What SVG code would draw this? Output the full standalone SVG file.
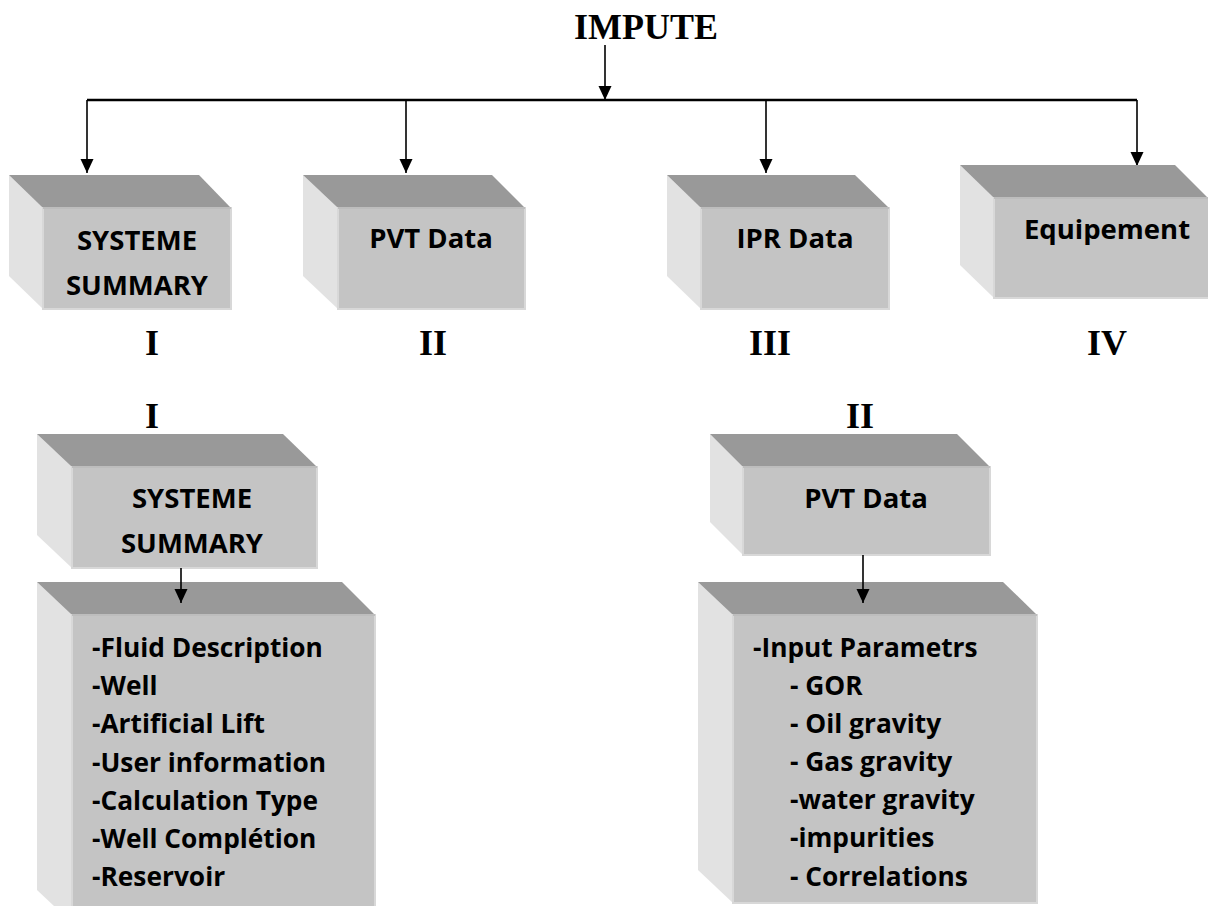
<svg xmlns="http://www.w3.org/2000/svg" width="1208" height="906" viewBox="0 0 1208 906">
<style>
.top{fill:#999999}
.side{fill:#e2e2e2}
.front{fill:#c4c4c4;stroke:#d8d8d8;stroke-width:2}
.edge{stroke:#b4b4b4;stroke-width:1.5;fill:none}
.bt{font-family:"Open Sans","Liberation Sans",sans-serif;font-weight:700;font-size:27.5px;fill:#000;text-anchor:middle}
.lt{font-family:"Open Sans","Liberation Sans",sans-serif;font-weight:700;font-size:26.3px;fill:#000}
.rn{font-family:"Liberation Serif","Times New Roman",serif;font-weight:700;font-size:36px;fill:#000;text-anchor:middle}
.ln{stroke:#000;stroke-width:1.6;fill:none}
</style>
<defs>
<marker id="ah" markerUnits="userSpaceOnUse" markerWidth="15" markerHeight="15" refX="14" refY="6.5" orient="auto">
<path d="M0,0 L14,6.5 L0,13 Z" fill="#000"/>
</marker>
</defs>
<rect width="1208" height="906" fill="#fff"/>

<text id="title" class="rn" x="646" y="39">IMPUTE</text>

<g id="connectors">
<line class="ln" x1="605" y1="45" x2="605" y2="100" marker-end="url(#ah)"/>
<line x1="87" y1="100" x2="1137" y2="100" stroke="#000" stroke-width="2.4"/>
<line class="ln" x1="87" y1="100" x2="87" y2="173" marker-end="url(#ah)"/>
<line class="ln" x1="406" y1="100" x2="406" y2="173" marker-end="url(#ah)"/>
<line class="ln" x1="766" y1="100" x2="766" y2="173" marker-end="url(#ah)"/>
<line class="ln" x1="1137" y1="100" x2="1137" y2="166" marker-end="url(#ah)"/>
</g>

<g id="box1">
<polygon class="side" points="9,175 43,208 43,309 9,276"/>
<polygon class="top" points="9,175 199,175 231,208 43,208"/>
<rect class="front" x="43" y="208" width="188" height="101"/>
<line class="edge" x1="43" y1="208" x2="231" y2="208"/>
<text class="bt" x="137" y="250">SYSTEME</text>
<text class="bt" x="137" y="295">SUMMARY</text>
</g>
<text id="lbl1" class="rn" x="152" y="355">I</text>

<g id="box2">
<polygon class="side" points="303,175 338,208 338,309 303,276"/>
<polygon class="top" points="303,175 492,175 525,208 338,208"/>
<rect class="front" x="338" y="208" width="187" height="101"/>
<line class="edge" x1="338" y1="208" x2="525" y2="208"/>
<text class="bt" x="431" y="248">PVT Data</text>
</g>
<text id="lbl2" class="rn" x="433" y="355">II</text>

<g id="box3">
<polygon class="side" points="667,175 701,208 701,309 667,276"/>
<polygon class="top" points="667,175 855,175 889,208 701,208"/>
<rect class="front" x="701" y="208" width="188" height="101"/>
<line class="edge" x1="701" y1="208" x2="889" y2="208"/>
<text class="bt" x="795" y="248">IPR Data</text>
</g>
<text id="lbl3" class="rn" x="770" y="355">III</text>

<g id="box4">
<polygon class="side" points="960,165 994,198 994,298 960,265"/>
<polygon class="top" points="960,165 1175,165 1208,198 994,198"/>
<rect class="front" x="994" y="198" width="216" height="100"/>
<line class="edge" x1="994" y1="198" x2="1208" y2="198"/>
<text class="bt" x="1107" y="239">Equipement</text>
</g>
<text id="lbl4" class="rn" x="1107" y="355">IV</text>

<text id="lbl5" class="rn" x="152" y="428">I</text>
<text id="lbl6" class="rn" x="860" y="428">II</text>

<g id="box5">
<polygon class="side" points="37,434 72,467 72,568 37,535"/>
<polygon class="top" points="37,434 283,434 317,467 72,467"/>
<rect class="front" x="72" y="467" width="245" height="101"/>
<line class="edge" x1="72" y1="467" x2="317" y2="467"/>
<text class="bt" x="192" y="508">SYSTEME</text>
<text class="bt" x="192" y="553">SUMMARY</text>
</g>

<g id="box6">
<polygon class="side" points="37,582 72,615 72,923 37,890"/>
<polygon class="top" points="37,582 342,582 375,615 72,615"/>
<rect class="front" x="72" y="615" width="303" height="308"/>
<line class="edge" x1="72" y1="615" x2="375" y2="615"/>
<text class="lt" x="92" y="657">-Fluid Description</text>
<text class="lt" x="92" y="695">-Well</text>
<text class="lt" x="92" y="733">-Artificial Lift</text>
<text class="lt" x="92" y="772">-User information</text>
<text class="lt" x="92" y="810">-Calculation Type</text>
<text class="lt" x="92" y="848">-Well Complétion</text>
<text class="lt" x="92" y="886">-Reservoir</text>
</g>

<g id="box7">
<polygon class="side" points="710,434 743,467 743,555 710,522"/>
<polygon class="top" points="710,434 957,434 990,467 743,467"/>
<rect class="front" x="743" y="467" width="247" height="88"/>
<line class="edge" x1="743" y1="467" x2="990" y2="467"/>
<text class="bt" x="866" y="508">PVT Data</text>
</g>

<g id="box8">
<polygon class="side" points="698,582 733,615 733,903 698,870"/>
<polygon class="top" points="698,582 1003,582 1037,615 733,615"/>
<rect class="front" x="733" y="615" width="304" height="288"/>
<line class="edge" x1="733" y1="615" x2="1037" y2="615"/>
<text class="lt" x="753" y="657">-Input Parametrs</text>
<text class="lt" x="790" y="695">- GOR</text>
<text class="lt" x="790" y="733">- Oil gravity</text>
<text class="lt" x="790" y="771">- Gas gravity</text>
<text class="lt" x="790" y="809">-water gravity</text>
<text class="lt" x="790" y="847">-impurities</text>
<text class="lt" x="790" y="886">- Correlations</text>
</g>

<g id="connectors-lower">
<line class="ln" x1="181" y1="568" x2="181" y2="603" marker-end="url(#ah)"/>
<line class="ln" x1="863" y1="555" x2="863" y2="603" marker-end="url(#ah)"/>
</g>
</svg>
